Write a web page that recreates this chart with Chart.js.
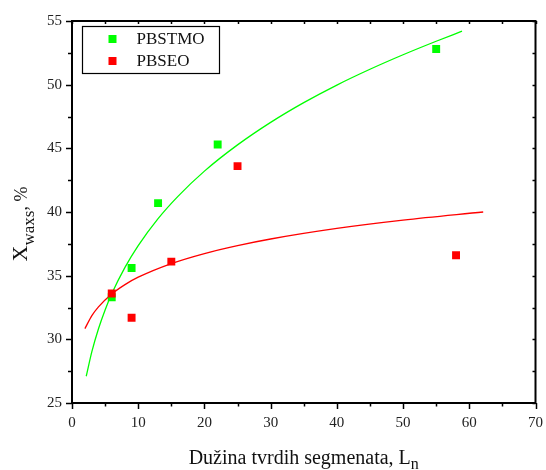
<!DOCTYPE html>
<html>
<head>
<meta charset="utf-8">
<script src="https://cdn.jsdelivr.net/npm/chart.js@4/dist/chart.umd.min.js"></script>
<style>
html,body{margin:0;padding:0;background:#fff;}
canvas{display:block;}
</style>
</head>
<body>
<canvas id="c" width="546" height="470"></canvas>
<script>
// Measured points
const pbstmoX = [6, 9, 13, 22, 55];
const pbstmoY = [33.3, 35.6, 40.7, 45.3, 52.8];
const pbseoX = [6, 9, 15, 25, 58];
const pbseoY = [33.6, 31.7, 36.1, 43.6, 36.6];
// Fit curves
const fitGreenX = [2.15, 3, 4, 5, 6, 8, 10, 13, 16, 20, 25, 30, 35, 40, 45, 50, 55, 58.9];
const fitGreenY = [27.1, 29.03, 30.83, 32.31, 33.58, 35.65, 37.36, 39.48, 41.23, 43.21, 45.27, 47.04, 48.59, 49.97, 51.21, 52.35, 53.41, 54.2];
const fitRedX = [1.95, 3, 4, 6, 8, 10, 15, 20, 25, 30, 40, 50, 62.1];
const fitRedY = [30.84, 31.86, 32.55, 33.56, 34.30, 34.88, 35.95, 36.74, 37.36, 37.88, 38.71, 39.36, 40.0];
// Axis ticks
const xTicks = [0, 10, 20, 30, 40, 50, 60, 70];
const yTicks = [25, 30, 35, 40, 45, 50, 55];
const seriesNames = ['PBSTMO', 'PBSEO'];
const xTitle = 'Dužina tvrdih segmenata, L';
const xTitleSub = 'n';
const yTitleMain = 'X';
const yTitleSub = 'waxs';
const yTitleRest = ', %';

const GREEN = '#00ff00';
const RED = '#ff0000';
const SERIF = '"Liberation Serif", "Times New Roman", serif';

const zip = (xs, ys) => xs.map((x, i) => ({x, y: ys[i]}));

const framePlugin = {
  id: 'frame',
  afterDraw(chart) {
    const {ctx, chartArea: a, scales: {x, y}} = chart;
    ctx.save();
    ctx.strokeStyle = '#000';
    // ticks
    const xs = [];
    for (let v = xTicks[0]; v <= xTicks[xTicks.length - 1] + 1e-9; v += (xTicks[1] - xTicks[0]) / 2) xs.push(v);
    const ys = [];
    for (let v = yTicks[0]; v <= yTicks[yTicks.length - 1] + 1e-9; v += (yTicks[1] - yTicks[0]) / 2) ys.push(v);
    ctx.lineWidth = 1.5;
    xs.forEach((v, i) => {
      const px = Math.round(x.getPixelForValue(v)) + 0.5;
      const major = i % 2 === 0;
      ctx.beginPath();
      ctx.moveTo(px, a.bottom);
      ctx.lineTo(px, a.bottom + (major ? 6 : 3.5));
      ctx.stroke();
      ctx.beginPath();
      ctx.moveTo(px, a.top);
      ctx.lineTo(px, a.top + 3);
      ctx.stroke();
    });
    ys.forEach((v, i) => {
      const py = Math.round(y.getPixelForValue(v)) + 0.5;
      const major = i % 2 === 0;
      ctx.beginPath();
      ctx.moveTo(a.left, py);
      ctx.lineTo(a.left - (major ? 6 : 4), py);
      ctx.stroke();
      ctx.beginPath();
      ctx.moveTo(a.right, py);
      ctx.lineTo(a.right - 3, py);
      ctx.stroke();
    });
    // frame
    ctx.lineWidth = 2;
    ctx.strokeRect(a.left, a.top, a.right - a.left, a.bottom - a.top);

    // legend
    ctx.lineWidth = 1.2;
    ctx.strokeRect(82.5, 26.5, 137, 47);
    const colors = [GREEN, RED];
    ctx.font = '17px ' + SERIF;
    ctx.textBaseline = 'middle';
    ctx.textAlign = 'left';
    seriesNames.forEach((n, i) => {
      const cy = 39 + i * 22;
      ctx.fillStyle = colors[i];
      ctx.fillRect(108.5, cy - 4, 8, 8);
      ctx.fillStyle = '#111';
      ctx.fillText(n, 136.5, cy + 1);
    });

    // x title
    ctx.fillStyle = '#111';
    ctx.textBaseline = 'alphabetic';
    ctx.font = '20px ' + SERIF;
    const w1 = ctx.measureText(xTitle).width;
    ctx.font = '16px ' + SERIF;
    const w2 = ctx.measureText(xTitleSub).width;
    const cx = (a.left + a.right) / 2;
    let sx = cx - (w1 + w2) / 2;
    ctx.font = '20px ' + SERIF;
    ctx.fillText(xTitle, sx, 463.5);
    ctx.font = '16px ' + SERIF;
    ctx.fillText(xTitleSub, sx + w1, 469);

    // y title (rotated)
    ctx.save();
    ctx.translate(27, 224);
    ctx.rotate(-Math.PI / 2);
    ctx.font = '22px ' + SERIF;
    const m1 = ctx.measureText(yTitleMain).width;
    ctx.font = '17px ' + SERIF;
    const m2 = ctx.measureText(yTitleSub).width;
    ctx.font = '18px ' + SERIF;
    const m3 = ctx.measureText(yTitleRest).width;
    let tx = -(m1 + m2 + m3) / 2;
    ctx.font = '22px ' + SERIF;
    ctx.fillText(yTitleMain, tx, 0);
    ctx.font = '17px ' + SERIF;
    ctx.fillText(yTitleSub, tx + m1, 7);
    ctx.font = '18px ' + SERIF;
    ctx.fillText(yTitleRest, tx + m1 + m2, 0);
    ctx.restore();

    ctx.restore();
  }
};

new Chart(document.getElementById('c'), {
  type: 'scatter',
  data: {
    datasets: [
      {label: seriesNames[1], data: zip(pbseoX, pbseoY), backgroundColor: RED, borderColor: RED,
       pointStyle: 'rect', pointRadius: 5.6, borderWidth: 0, showLine: false, order: 0},
      {label: seriesNames[0], data: zip(pbstmoX, pbstmoY), backgroundColor: GREEN, borderColor: GREEN,
       pointStyle: 'rect', pointRadius: 5.6, borderWidth: 0, showLine: false, order: 1},
      {label: 'fit ' + seriesNames[0], data: zip(fitGreenX, fitGreenY), borderColor: GREEN, backgroundColor: GREEN,
       showLine: true, pointRadius: 0, borderWidth: 1.3, cubicInterpolationMode: 'monotone', order: 2},
      {label: 'fit ' + seriesNames[1], data: zip(fitRedX, fitRedY), borderColor: RED, backgroundColor: RED,
       showLine: true, pointRadius: 0, borderWidth: 1.3, cubicInterpolationMode: 'monotone', order: 2}
    ]
  },
  options: {
    responsive: false,
    animation: false,
    layout: {padding: {top: 21, right: 8, left: 0, bottom: 0}},
    plugins: {legend: {display: false}, tooltip: {enabled: false}},
    scales: {
      x: {
        type: 'linear', min: 0, max: 70,
        afterBuildTicks: s => { s.ticks = xTicks.map(v => ({value: v})); },
        afterFit: s => { s.height = 67; },
        grid: {display: false}, border: {display: false},
        ticks: {padding: 3, color: '#222', font: {family: SERIF, size: 15}, maxRotation: 0}
      },
      y: {
        type: 'linear', min: 25, max: 55,
        afterBuildTicks: s => { s.ticks = yTicks.map(v => ({value: v})); },
        afterFit: s => { s.width = 72; },
        grid: {display: false}, border: {display: false},
        ticks: {padding: 2, color: '#222', font: {family: SERIF, size: 15}}
      }
    }
  },
  plugins: [framePlugin]
});
</script>
</body>
</html>
